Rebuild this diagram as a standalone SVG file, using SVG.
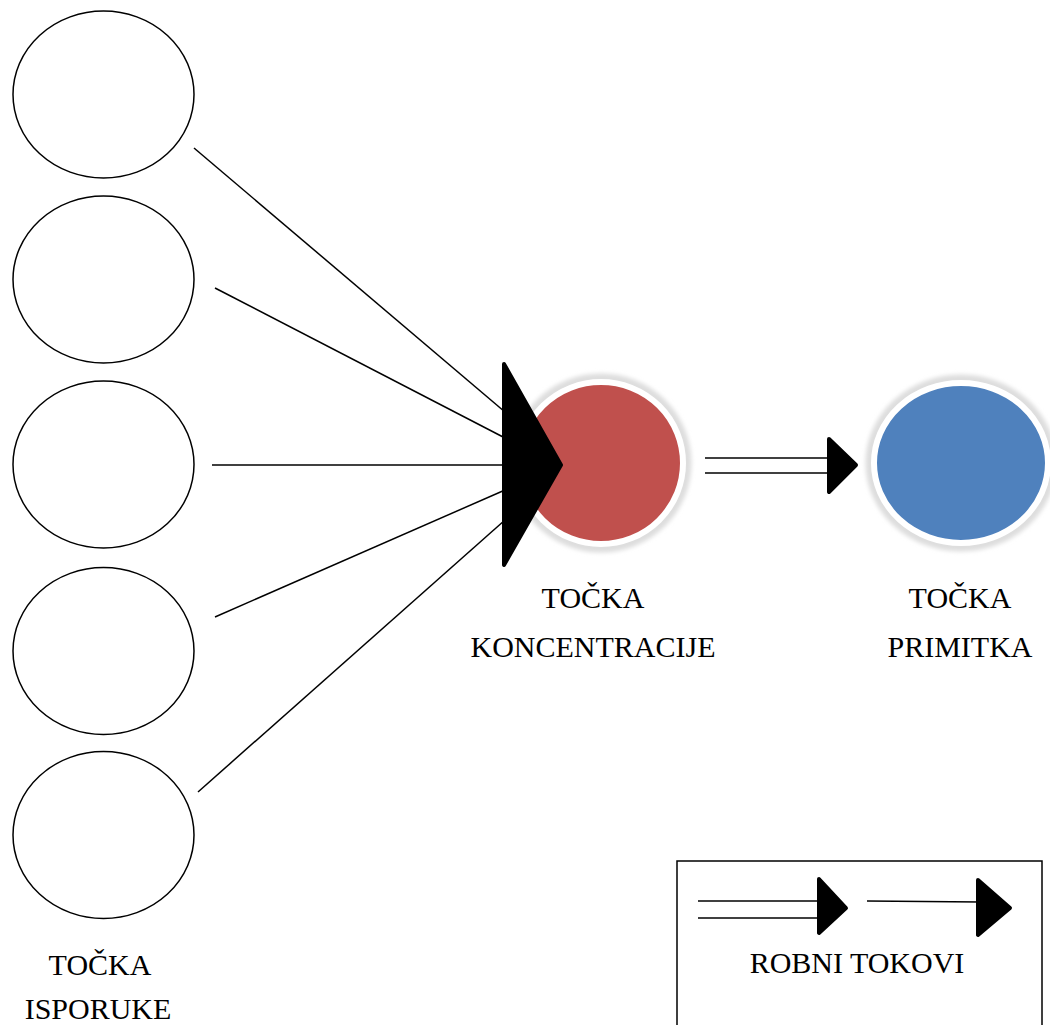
<svg xmlns="http://www.w3.org/2000/svg" width="1050" height="1025" viewBox="0 0 1050 1025">
<style>
.src{fill:#fff;stroke:#000;stroke-width:1.5}
.ln{stroke:#000;stroke-width:1.5;fill:none}
.head{fill:#000;stroke:#000;stroke-width:4;stroke-linejoin:round}
.lbl{font-family:"Liberation Serif","Times New Roman",serif;font-size:30px;fill:#000;text-anchor:middle}
.glow{fill:none;stroke:#ddd;stroke-width:9}
</style>
<defs>
<filter id="sh" x="-20%" y="-20%" width="140%" height="140%"><feGaussianBlur stdDeviation="2"/></filter>
</defs>
<rect width="1050" height="1025" fill="#fff"/>
<g id="connectors">
<line class="ln" x1="194" y1="148" x2="505" y2="412"/>
<line class="ln" x1="215" y1="288" x2="505" y2="438"/>
<line class="ln" x1="212" y1="465" x2="505" y2="465"/>
<line class="ln" x1="215" y1="617" x2="505" y2="490"/>
<line class="ln" x1="198" y1="792" x2="505" y2="520"/>
<line class="ln" x1="705" y1="458" x2="830" y2="458"/>
<line class="ln" x1="705" y1="473" x2="830" y2="473"/>
<polygon class="head" points="829,439 856,465 829,492"/>
</g>
<g id="isporuka1"><ellipse class="src" cx="103.5" cy="94.5" rx="90.5" ry="83.5"/></g>
<g id="isporuka2"><ellipse class="src" cx="103.5" cy="279.5" rx="90.5" ry="83.5"/></g>
<g id="isporuka3"><ellipse class="src" cx="103.5" cy="464.5" rx="90.5" ry="83.5"/></g>
<g id="isporuka4"><ellipse class="src" cx="103.5" cy="651" rx="90.5" ry="83.5"/></g>
<g id="isporuka5"><ellipse class="src" cx="103.5" cy="835" rx="90.5" ry="83.5"/></g>
<g id="label-isporuke">
<text class="lbl" x="100" y="975">TOČKA</text>
<text class="lbl" x="98" y="1019">ISPORUKE</text>
</g>
<g id="koncentracija">
<ellipse class="glow" cx="601" cy="463" rx="86" ry="85" filter="url(#sh)"/>
<ellipse cx="601" cy="463" rx="82" ry="81" fill="#C0504D" stroke="#fff" stroke-width="6"/>
<polygon class="head" points="504,364 561,465 504,565"/>
<text class="lbl" x="593" y="608">TOČKA</text>
<text class="lbl" x="593" y="657">KONCENTRACIJE</text>
</g>
<g id="primitak">
<ellipse class="glow" cx="961" cy="463" rx="91" ry="84" filter="url(#sh)"/>
<ellipse cx="961" cy="463" rx="87" ry="80" fill="#4F81BD" stroke="#fff" stroke-width="6"/>
<text class="lbl" x="960" y="608">TOČKA</text>
<text class="lbl" x="960" y="657">PRIMITKA</text>
</g>
<g id="legenda">
<rect x="677" y="861" width="365" height="180" fill="#fff" stroke="#000" stroke-width="1.5"/>
<line class="ln" x1="698" y1="901" x2="820" y2="901"/>
<line class="ln" x1="698" y1="918" x2="820" y2="918"/>
<polygon class="head" points="819,879 846,908 819,933"/>
<line class="ln" x1="867" y1="901" x2="980" y2="902"/>
<polygon class="head" points="978,880 1010,908 978,935"/>
<text class="lbl" x="857" y="973">ROBNI TOKOVI</text>
</g>
</svg>
